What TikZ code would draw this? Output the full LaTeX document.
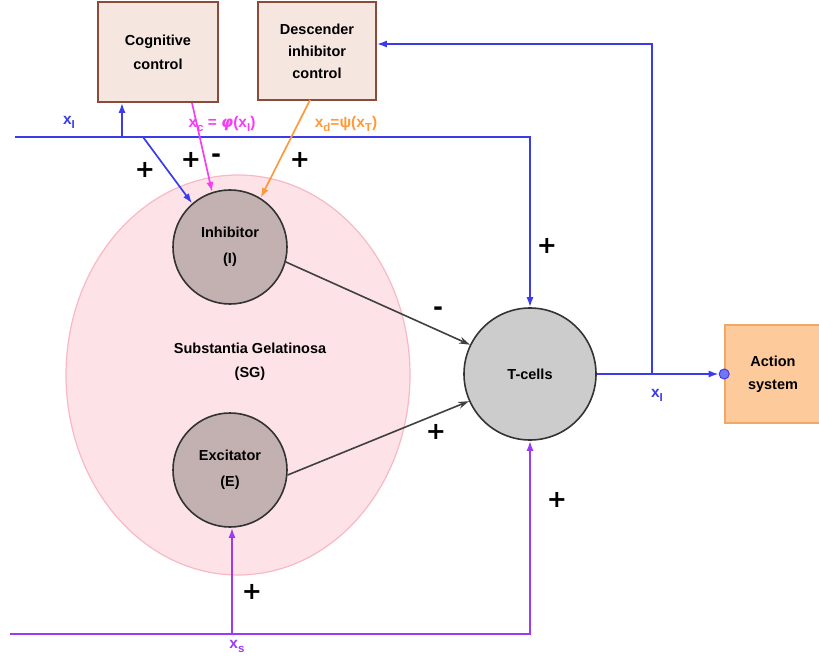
\documentclass[tikz,border=0pt]{standalone}
\usepackage{fontspec}
\setmainfont{Liberation Sans}
\newfontfamily\signfont{DejaVu Sans}
\newfontfamily\greekfont{DejaVu Sans}
\usetikzlibrary{shapes.geometric,arrows.meta}
\definecolor{boxfill}{HTML}{F5E6E0}
\definecolor{boxline}{HTML}{8B4A3A}
\definecolor{mauve}{HTML}{C3B1B1}
\definecolor{tgray}{HTML}{CCCCCC}
\definecolor{actfill}{HTML}{FDCA9C}
\definecolor{actline}{HTML}{F3A765}
\definecolor{sgfill}{HTML}{FDE3E7}
\definecolor{sgline}{HTML}{F8B9C4}
\definecolor{cblue}{HTML}{3B3BEE}
\definecolor{cmag}{HTML}{F53DF5}
\definecolor{corange}{HTML}{FF9A3C}
\definecolor{cpurple}{HTML}{9B3BF5}
\definecolor{cdark}{HTML}{404040}
\newcommand{\lsub}[1]{\raisebox{-4pt}{\fontsize{11.5}{11.5}\selectfont #1}}
\begin{document}
\begin{tikzpicture}[x=1pt,y=-1pt,
  font=\fontsize{14.5}{18}\selectfont\bfseries,
  ctrlbox/.style={draw=boxline, fill=boxfill, line width=1.6pt, align=center, inner sep=0pt},
  neuron/.style={circle, draw=black!80, line width=1.6pt, align=center, inner sep=0pt},
  bluearr/.style={draw=cblue, line width=1.7pt, -{Latex[length=10pt,width=7pt]}},
  purparr/.style={draw=cpurple, line width=1.7pt, -{Latex[length=10pt,width=7pt]}},
  darkarr/.style={draw=cdark, line width=1.6pt, -{Stealth[length=11pt,width=7pt]}},
  sign/.style={font=\fontsize{24}{24}\signfont\bfseries, text=black},
  lab/.style={font=\fontsize{15.5}{18}\selectfont\bfseries}
]
\useasboundingbox (0,0) rectangle (819,663);

% substantia gelatinosa
\node[ellipse, draw=sgline, fill=sgfill, line width=1.2pt, minimum width=344pt, minimum height=400pt] (sg) at (238,375) {};
\node[align=center] (sgtext) at (250,362) {Substantia Gelatinosa\\[6pt](SG)};

% boxes
\node[ctrlbox, minimum width=120pt, minimum height=100pt] (cog) at (158,52) {Cognitive\\[6pt]control};
\node[ctrlbox, minimum width=118pt, minimum height=98pt] (desc) at (317,51) {Descender\\[4pt]inhibitor\\[4pt]control};
\node[draw=actline, fill=actfill, line width=1.6pt, minimum width=96pt, minimum height=98pt, align=center] (act) at (773,374) {Action\\[5pt]system};

% neurons
\node[neuron, fill=mauve, minimum size=114pt] (inh) at (230,247) {Inhibitor\\[8pt](I)};
\node[neuron, fill=mauve, minimum size=114pt] (exc) at (230,470) {Excitator\\[8pt](E)};
\node[neuron, fill=tgray, minimum size=132pt] (tc) at (530,374) {T-cells};

% coordinates
\coordinate (L0) at (15,137);
\coordinate (j1) at (122,137);
\coordinate (j2) at (143,137);
\coordinate (fb) at (652,374);
\coordinate (fbtop) at (652,44);
\coordinate (P0) at (10,634);
\coordinate (p1) at (232,634);
\coordinate (mstart) at (192,103);
\coordinate (ostart) at (310,100);
\node[circle, fill=cblue!70, draw=cblue, line width=1pt, minimum size=10pt, inner sep=0pt] (dot) at (act.west) {};

% blue connectors
\draw[bluearr] (L0) -| (tc.north);
\draw[bluearr] (j1) -- (j1 |- cog.south);
\draw[bluearr] (j2) -- (inh.131);
\draw[bluearr] (fb) -- (fbtop) -- (desc.east |- fbtop);
\draw[bluearr] (tc.east) -- (dot.west);

% magenta and orange
\draw[draw=cmag, line width=1.7pt, -{Latex[length=10pt,width=7pt]}] (mstart) -- (inh.108);
\draw[draw=corange, line width=1.7pt, -{Latex[length=10pt,width=7pt]}] (ostart) -- (inh.58);

% purple
\draw[purparr] (P0) -| (tc.south);
\draw[purparr] (p1) -- (p1 |- exc.south);

% dark
\draw[darkarr] (inh.-15) -- (tc.154);
\draw[darkarr] (exc.-5) -- (tc.204);

% labels
\node[lab, text=cblue] (lxi) at (69,122) {x\lsub{I}};
\node[lab, text=cmag] (lxc) at (222,124) {x\lsub{c} = {\greekfont\itshape φ}(x\lsub{I})};
\node[lab, text=corange] (lxd) at (346,124) {x\lsub{d}=ψ(x\lsub{T})};
\node[lab, text=cblue] (lxo) at (657,395) {x\lsub{I}};
\node[lab, text=cpurple] (lxs) at (237,646) {x\lsub{s}};

\node[sign] (s1) at (145,170) {+};
\node[sign] (s2) at (191,160) {+};
\node[sign] (s3) at (216,158) {-};
\node[sign] (s4) at (300,160) {+};
\node[sign] (s5) at (547,246) {+};
\node[sign] (s6) at (438,311) {-};
\node[sign] (s7) at (436,432) {+};
\node[sign] (s8) at (557,500) {+};
\node[sign] (s9) at (252,592) {+};
\end{tikzpicture}
\end{document}
